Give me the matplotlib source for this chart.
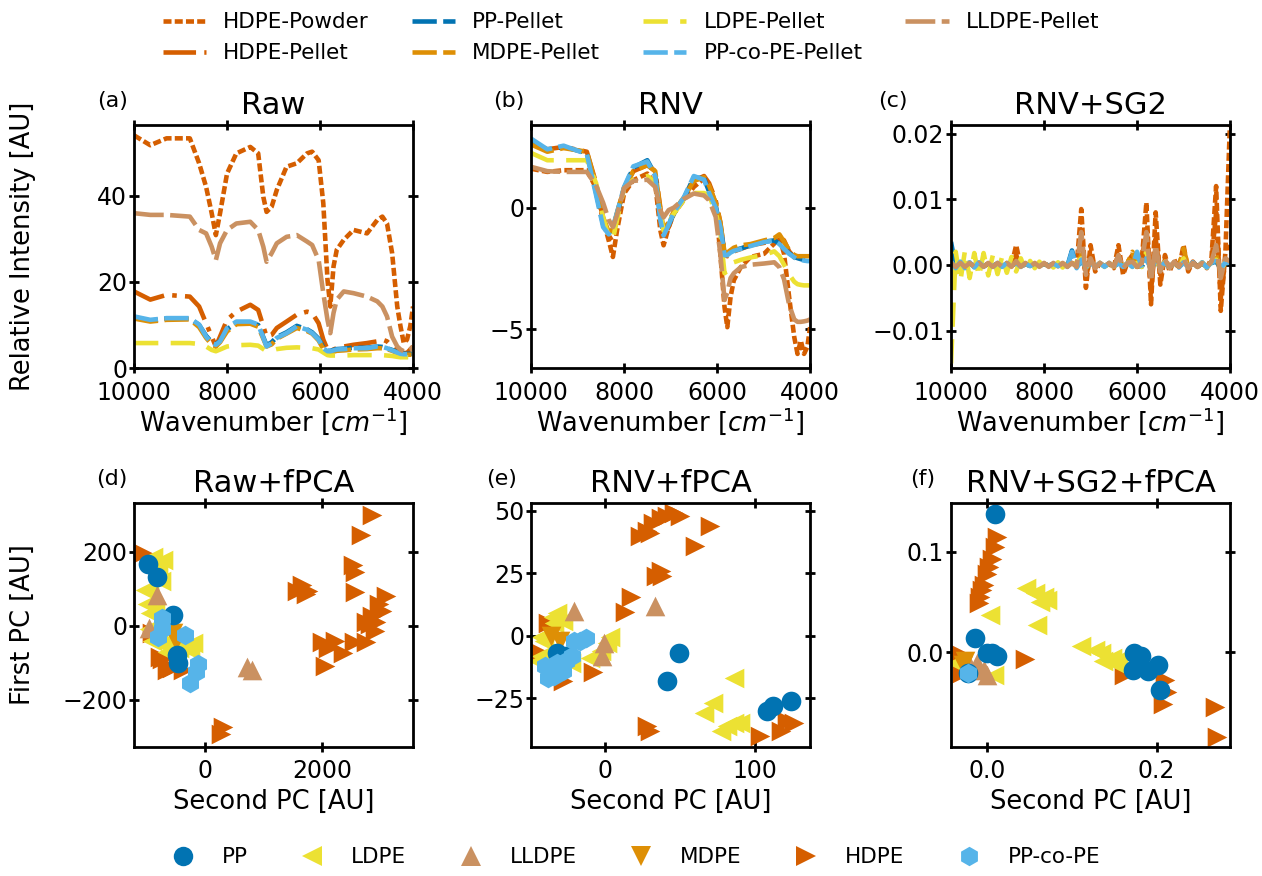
import numpy as np
import matplotlib
matplotlib.use('Agg')
import matplotlib.pyplot as plt
from matplotlib.lines import Line2D

# colours (seaborn colorblind)
c_hdpe = '#D55E00'
c_pp = '#0173B2'
c_mdpe = '#DE8F05'
c_ldpe = '#ECE133'
c_ppco = '#56B4E9'
c_lldpe = '#CA9161'

# ---- spectra, panels (a) and (b) ----
wn = [10000, 9650, 9300, 8800, 8600, 8450, 8330, 8240, 8150, 8000, 7800, 7500, 7330, 7220,
      7150, 7040, 6930, 6720, 6500, 6280, 6170, 6030, 5930, 5840, 5780, 5710, 5640, 5490,
      5280, 4990, 4770, 4660, 4560, 4450, 4340, 4270, 4200, 4130, 4060, 4000]

raw_hdpe_pow = [54.1, 51.8, 53.4, 53.4, 47.6, 42.1, 36.0, 30.9, 36.0, 45.2, 49.9, 51.4, 49.9, 39.8,
                36.3, 37.5, 41.4, 46.8, 47.6, 49.9, 50.3, 48.3, 38.3, 20.5, 14.3, 23.6, 27.5, 29.8,
                32.1, 31.3, 34.4, 35.2, 33.6, 26.7, 14.3, 9.7, 5.8, 6.6, 9.7, 14.3]
raw_hdpe_pel = [17.8, 15.9, 17.0, 16.6, 14.3, 10.4, 7.3, 5.0, 7.3, 11.2, 13.1, 14.7, 13.5, 9.7,
                7.3, 7.7, 9.3, 10.8, 12.4, 13.1, 12.8, 10.4, 6.6, 4.3, 3.9, 4.3, 4.6, 5.0,
                5.4, 5.8, 6.2, 6.6, 6.2, 5.0, 4.3, 3.9, 3.5, 3.5, 4.3, 5.0]
raw_pp = [11.8, 11.0, 11.5, 11.5, 10.0, 7.5, 6.0, 5.5, 6.3, 9.0, 10.5, 10.6, 10.0, 7.2,
          5.3, 6.0, 7.2, 8.3, 9.8, 9.0, 8.3, 6.8, 4.8, 4.0, 4.0, 4.2, 4.4, 4.5,
          4.7, 4.7, 5.0, 4.9, 4.6, 4.2, 3.7, 3.4, 3.3, 3.3, 3.3, 3.3]
raw_mdpe = [11.5, 10.8, 11.2, 11.3, 9.5, 7.0, 5.5, 5.0, 6.0, 8.5, 10.2, 10.3, 9.6, 6.8,
            5.0, 5.5, 6.8, 8.0, 9.3, 8.6, 8.0, 6.4, 4.4, 3.6, 3.5, 3.8, 4.0, 4.1,
            4.3, 4.4, 4.6, 4.6, 4.4, 4.0, 3.5, 3.2, 3.1, 3.1, 3.1, 3.1]
raw_ldpe = [5.8, 5.8, 5.8, 5.8, 5.6, 5.0, 4.2, 3.9, 4.3, 5.0, 5.3, 5.4, 5.2, 4.4,
            3.9, 4.1, 4.4, 4.7, 4.8, 4.7, 4.6, 4.3, 3.6, 3.0, 2.9, 2.9, 2.9, 2.9,
            3.0, 3.0, 3.0, 3.0, 2.9, 2.8, 2.6, 2.5, 2.5, 2.5, 2.5, 2.5]
raw_ppco = [12.0, 11.2, 11.6, 11.6, 10.1, 7.3, 5.8, 5.4, 6.2, 9.3, 10.8, 10.8, 10.1, 7.0,
            5.0, 5.8, 7.0, 8.1, 9.7, 8.9, 8.1, 6.6, 4.6, 3.9, 3.9, 4.1, 4.3, 4.4,
            4.6, 4.6, 5.0, 4.9, 4.6, 4.1, 3.6, 3.3, 3.2, 3.2, 3.3, 3.3]
raw_lldpe = [36.0, 35.6, 35.6, 35.2, 32.1, 31.3, 28.2, 25.1, 29.0, 32.1, 33.6, 34.0, 32.1, 28.2,
             24.7, 26.7, 29.0, 30.5, 30.9, 29.4, 28.6, 25.1, 17.4, 11.2, 8.1, 12.8, 15.9, 17.8,
             17.4, 16.6, 15.5, 14.3, 12.0, 7.3, 5.0, 4.3, 3.9, 3.9, 4.3, 5.0]

rnv_hdpe_pow = [1.6, 1.47, 1.54, 1.54, 0.8, -0.52, -1.35, -2.03, -0.93, 0.58, 1.13, 1.40, 0.99, -0.93,
                -1.55, -0.80, -0.25, 0.30, 0.85, 1.20, 0.92, 0.16, -1.90, -4.09, -4.92, -3.68, -2.99, -2.45,
                -2.03, -1.90, -1.48, -1.21, -1.90, -3.68, -5.33, -6.02, -5.47, -6.02, -5.74, -4.92]
rnv_hdpe_pel = [2.7, 2.4, 2.5, 2.3, 1.0, -0.5, -1.3, -1.2, -0.3, 0.8, 1.5, 1.75, 1.5, 0.0,
                -1.2, -0.8, -0.2, 0.4, 1.1, 1.3, 1.0, 0.3, -0.6, -1.9, -2.0, -1.9, -1.8, -1.7,
                -1.55, -1.45, -1.35, -1.15, -1.35, -1.80, -2.05, -2.05, -2.05, -2.05, -2.05, -2.05]
rnv_pp = [2.75, 2.35, 2.50, 2.25, 0.6, -0.7, -1.05, -0.85, -0.25, 0.8, 1.65, 1.95, 1.35, -0.4,
          -1.05, -0.7, -0.25, 0.35, 1.25, 1.2, 0.65, 0.05, -0.75, -1.90, -1.92, -1.80, -1.75, -1.68,
          -1.55, -1.40, -1.35, -1.48, -1.68, -1.88, -2.02, -2.08, -2.12, -2.15, -2.17, -2.17]
rnv_mdpe = [2.6, 2.3, 2.45, 2.3, 0.9, -0.4, -1.0, -0.9, -0.2, 0.8, 1.5, 1.75, 1.5, -0.1,
            -0.9, -0.6, -0.15, 0.4, 1.1, 1.25, 0.9, 0.2, -0.6, -1.85, -1.85, -1.75, -1.65, -1.55,
            -1.50, -1.35, -1.25, -1.10, -1.40, -1.75, -1.95, -2.0, -2.0, -2.0, -2.0, -2.0]
rnv_ldpe = [2.25, 1.95, 1.95, 1.95, 1.0, -0.4, -1.2, -1.3, -0.5, 0.8, 1.15, 1.30, 1.05, -0.2,
            -0.95, -0.6, -0.25, 0.3, 0.6, 0.6, 0.5, -0.2, -1.0, -2.7, -2.6, -2.35, -2.25, -2.15,
            -2.05, -1.95, -1.80, -2.0, -2.35, -2.75, -3.05, -3.15, -3.18, -3.2, -3.2, -3.2]
rnv_ppco = [2.84, 2.40, 2.55, 2.20, 0.50, -0.80, -1.10, -0.80, -0.20, 0.85, 1.70, 1.90, 1.30, -0.50,
            -1.15, -0.70, -0.20, 0.40, 1.30, 1.15, 0.60, 0.00, -0.80, -1.96, -1.96, -1.85, -1.78, -1.70,
            -1.58, -1.42, -1.35, -1.50, -1.70, -1.90, -2.05, -2.12, -2.15, -2.18, -2.20, -2.20]
rnv_lldpe = [1.68, 1.50, 1.47, 1.47, 0.9, 0.2, -0.5, -0.8, -0.3, 0.8, 1.10, 1.15, 0.85, -0.1,
             -0.4, -0.1, 0.0, 0.35, 0.58, 0.5, 0.3, -0.38, -1.9, -3.8, -3.5, -2.9, -2.7, -2.45,
             -2.35, -2.30, -2.25, -2.45, -2.95, -4.0, -4.6, -4.7, -4.7, -4.68, -4.65, -4.6]

# ---- second derivative spectra, panel (c), values in 1e-3 ----
wn_c = [10000, 9900, 9800, 9700, 9600, 9500, 9400, 9300, 9200, 9100, 9000, 8900, 8800, 8700,
        8600, 8500, 8400, 8300, 8200, 8100, 8000, 7900, 7800, 7700, 7600, 7500, 7400, 7300,
        7200, 7100, 7000, 6900, 6800, 6700, 6600, 6500, 6400, 6300, 6200, 6100, 6000, 5900,
        5800, 5700, 5600, 5500, 5400, 5300, 5200, 5100, 5000, 4900, 4800, 4700, 4600, 4500,
        4400, 4300, 4200, 4100, 4000]
sg_hdpe_pow = [0.3, -0.2, 0.2, -0.2, 0.2, -0.1, 0.2, -0.2, 0.1, -0.1, 0.2, -0.2, 0.1, -0.1,
               3.0, -0.3, 0.1, -0.1, 0.1, -0.1, 0.2, -0.1, 0.1, -0.2, 0.1, -0.1, 0.3, -0.2,
               8.5, -3.5, 3.0, -1.0, 0.3, -0.2, 0.2, -0.5, 3.0, -1.5, 0.5, 1.5, -0.5, 0.5,
               9.5, -6.0, 8.0, -3.0, 1.5, -1.0, 0.8, -0.5, 3.0, -1.0, 0.5, -0.3, 0.3, -0.5,
               1.0, 12.0, -7.0, 2.0, 22.0]
sg_hdpe_pel = [0.2, -0.2, 0.2, -0.1, 0.1, -0.1, 0.2, -0.1, 0.1, -0.1, 0.1, -0.1, 0.1, -0.1,
               1.5, -0.2, 0.1, -0.1, 0.1, -0.1, 0.1, -0.1, 0.1, -0.1, 0.1, -0.1, 0.2, -0.1,
               4.0, -2.0, 1.5, -0.5, 0.2, -0.2, 0.2, -0.3, 1.5, -0.8, 0.3, 0.8, -0.3, 0.3,
               6.0, -4.0, 4.0, -1.5, 0.8, -0.5, 0.4, -0.3, 1.5, -0.5, 0.3, -0.2, 0.2, -0.3,
               0.5, 8.0, -5.0, 1.0, 3.0]
sg_pp = [3.5, -0.4, 0.4, -0.3, 0.3, -0.3, 0.3, -0.2, 0.2, -0.2, 0.2, -0.2, 0.2, -0.1,
         0.2, -0.1, 0.1, -0.1, 0.1, -0.1, 0.1, -0.1, 0.1, -0.1, 0.2, -0.2, 2.2, -0.3,
         0.5, -0.3, 0.2, -0.2, 0.2, -0.2, 0.2, -0.2, 0.2, -0.2, 0.2, 0.5, 0.5, -0.3,
         1.0, -0.5, 0.5, -0.3, 0.3, -0.3, 0.3, -0.3, 0.3, -0.3, 0.3, -0.3, 0.3, -0.3,
         0.3, 0.5, -0.5, 0.3, 0.2]
sg_mdpe = [0.4, -0.4, 0.4, -0.3, 0.3, -0.3, 0.3, -0.2, 0.2, -0.2, 0.2, -0.2, 0.2, -0.1,
           0.5, -0.1, 0.1, -0.1, 0.1, -0.1, 0.1, -0.1, 0.1, -0.1, 0.2, -0.2, 0.3, -0.2,
           1.5, -0.5, 0.5, -0.2, 0.2, -0.2, 0.2, -0.2, 0.8, -0.3, 0.3, 2.0, -0.3, 0.3,
           2.0, -1.0, 1.0, -0.5, 0.5, -0.3, 0.3, -0.3, 2.5, -0.3, 0.3, -0.3, 0.3, -0.3,
           0.5, 1.5, -1.0, 0.5, 0.3]
sg_ldpe = [-15.0, 2.0, -2.5, 2.2, -2.0, 1.8, -1.8, 1.8, -1.6, 1.5, -1.4, 1.3, -1.2, 1.2,
           -1.0, 1.0, -0.8, 0.6, -0.5, 0.5, -0.5, 0.4, -0.4, 0.4, -0.4, 0.4, -0.4, 0.4,
           1.0, -0.4, 0.4, -0.3, 0.3, -0.3, 0.3, -0.3, 0.6, -0.3, 0.3, -0.3, 0.3, -0.3,
           2.0, -0.8, 0.8, -0.5, 0.5, -0.4, 0.4, -0.4, 1.0, -0.4, 0.4, -0.4, 0.4, -0.4,
           0.4, 0.8, -0.8, 0.4, 0.3]
sg_ppco = [0.5, -0.5, 0.5, -0.5, 0.4, -0.4, 0.4, -0.3, 0.3, -0.3, 0.3, -0.3, 0.3, -0.2,
           0.3, -0.3, 0.2, -0.2, 0.2, -0.2, 0.2, -0.2, 0.2, -0.2, 0.3, -0.3, 2.0, -0.5,
           0.8, -0.4, 0.3, -0.3, 0.3, -0.3, 0.3, -0.3, 0.3, -0.3, 0.3, -0.3, 2.0, -0.5,
           1.0, -0.6, 0.6, -0.4, 0.4, -0.4, 0.4, -0.4, 0.4, -0.4, 0.4, -0.4, 0.4, -0.4,
           0.4, 0.6, -0.6, 0.4, 0.3]
sg_lldpe = [0.3, -0.3, 0.3, -0.3, 0.3, -0.3, 0.3, -0.3, 0.3, -0.3, 0.3, -0.3, 0.3, -0.3,
            0.6, -0.3, 0.3, -0.3, 0.3, -0.3, 0.3, -0.3, 0.3, -0.3, 0.3, -0.3, 0.3, -0.3,
            5.0, -1.5, 1.0, -0.5, 0.3, -0.3, 0.3, -0.3, 1.5, -0.5, 0.3, 0.5, -0.3, 0.3,
            5.0, -2.5, 3.0, -1.0, 0.8, -0.5, 0.5, -0.3, 1.0, -0.5, 0.3, -0.3, 0.3, -0.3,
            0.5, 3.0, -2.0, 1.0, 0.5]

# ---- fPCA scores: (second PC, first PC) ----
d_pp_x = [-970, -820, -540, -480, -470]
d_pp_y = [168, 131, 29, -80, -102]
d_ldpe_x = [-900, -800, -950, -1000, -850, -950, -800, -700, -600, -450, -500, -750, -900, -650,
            -884, -718, -1026, -940, -200, -256]
d_ldpe_y = [170, 160, 100, 60, 40, -10, -30, -50, -60, -60, -30, 120, -40, -70,
            186, 178, 96, 34, -48, -66]
d_lldpe_x = [-826, -950, 710, 795]
d_lldpe_y = [83, -5, -111, -120]
d_mdpe_x = [-547, -500, -600]
d_mdpe_y = [-20, -40, 10]
d_hdpe_x = [2850, 2660, 2530, 2560, 2560, 1650, 1760, 1580, 1720, 3100, 2980, 2850, 2820, 2930,
            3020, 2900, 2760, 2000, 2230, 2100, 2350, 2050, 2550, 2760, 300, 280, -1060, -769,
            -740, -650, -560, -900, -376]
d_hdpe_y = [300, 245, 165, 145, 92, 110, 95, 95, 85, 80, 60, 25, 5, 10,
            40, -15, 10, -45, -40, -60, -75, -110, -45, -45, -275, -292, 196, -85,
            -90, -120, -115, -20, -120]
d_ppco_x = [-740, -798, -342, -115, -256, -740, -160]
d_ppco_y = [20, -30, -25, -104, -156, -10, -125]

e_pp_x = [49, 41, 108, 112, 124, -32, -26]
e_pp_y = [-7, -18, -30, -28, -26, -7, -8]
e_ldpe_x = [86, 72, 66, 81, 86, 90, 77, -32, -34, -41, -43, -23, 1, -3, -35, -43, -10, 3, -45, -28]
e_ldpe_y = [-17, -27, -31, -36, -35, -35, -38, 9, 5, -2, -8, -11, -3, -6, 7.5, -0.5, -9, -0.5, -10, 6]
e_lldpe_x = [-21, 33, -1, -2]
e_lldpe_y = [10, 12, -3, -8]
e_mdpe_x = [-36, -30]
e_mdpe_y = [0, -2]
e_hdpe_x = [23, 28, 32, 37, 41, 46, 50, 30, 70, 60, 37, 38, 34, 17, 13, -8, 28, 30,
            103, 117, 126, 121, -38, -43, -28]
e_hdpe_y = [40, 42, 45, 47, 48, 49, 48, 41, 44, 36, 26, 24, 24, 15.5, 9.5, -14.5, -36, -38,
            -40, -38, -35, -34, 5, -7, -18]
e_ppco_x = [-21, -17, -32, -34, -26, -28, -13, -38, -40, -22]
e_ppco_y = [-2, -2, -11, -16, -10, -14, -1, -17, -12, -8]

f_pp_x = [0.010, -0.014, 0.0, 0.006, 0.012, 0.174, 0.182, 0.172, 0.190, 0.202, 0.204, -0.022]
f_pp_y = [0.137, 0.014, -0.001, -0.001, -0.004, -0.001, -0.004, -0.018, -0.019, -0.013, -0.037, -0.021]
f_ldpe_x = [0.046, 0.057, 0.067, 0.071, 0.063, 0.004, 0.059, 0.111, 0.127, 0.135, 0.147, 0.154,
            0.137, 0.150, 0.008, -0.036]
f_ldpe_y = [0.064, 0.059, 0.055, 0.052, 0.050, 0.037, 0.027, 0.006, 0.002, -0.001, -0.006, -0.008,
            -0.009, -0.011, -0.022, -0.011]
f_lldpe_x = [-0.012, -0.004, -0.020, 0.000]
f_lldpe_y = [-0.011, -0.018, -0.014, -0.022]
f_mdpe_x = [-0.026, -0.028]
f_mdpe_y = [-0.009, -0.013]
f_hdpe_x = [0.012, 0.010, 0.006, 0.002, 0.000, -0.004, -0.006, -0.008, -0.010, 0.045, 0.162, 0.210,
            0.212, 0.208, 0.269, 0.271, -0.034, -0.030]
f_hdpe_y = [0.115, 0.105, 0.093, 0.085, 0.078, 0.067, 0.062, 0.055, 0.049, -0.007, -0.022, -0.027,
            -0.039, -0.051, -0.054, -0.084, -0.001, -0.021]
f_ppco_x = [-0.022]
f_ppco_y = [-0.021]

fig = plt.figure(figsize=(12.62, 8.76), dpi=100)
lefts = [0.1062, 0.4208, 0.7536]
w = 0.2211
axes_top = [fig.add_axes([l, 0.5799, w, 0.2774]) for l in lefts]
axes_bot = [fig.add_axes([l, 0.1473, w, 0.2785]) for l in lefts]

lw = 3.3
line_styles = {
    'HDPE-Powder': (c_hdpe, (0, (1.75, 0.7))),
    'HDPE-Pellet': (c_hdpe, (0, (7.1, 1.8, 1.0, 1.8))),
    'PP-Pellet': (c_pp, (0, (5.3, 1.4))),
    'MDPE-Pellet': (c_mdpe, (0, (5.3, 1.4))),
    'LDPE-Pellet': (c_ldpe, (0, (5.3, 2.7))),
    'PP-co-PE-Pellet': (c_ppco, (0, (5.3, 1.4))),
    'LLDPE-Pellet': (c_lldpe, (0, (6.5, 1.4))),
}
names = list(line_styles.keys())
raw = [raw_hdpe_pow, raw_hdpe_pel, raw_pp, raw_mdpe, raw_ldpe, raw_ppco, raw_lldpe]
rnv = [rnv_hdpe_pow, rnv_hdpe_pel, rnv_pp, rnv_mdpe, rnv_ldpe, rnv_ppco, rnv_lldpe]
sg = [sg_hdpe_pow, sg_hdpe_pel, sg_pp, sg_mdpe, sg_ldpe, sg_ppco, sg_lldpe]

for i, n in enumerate(names):
    col, ls = line_styles[n]
    axes_top[0].plot(wn, raw[i], color=col, ls=ls, lw=lw, label=n)
    axes_top[1].plot(wn, rnv[i], color=col, ls=ls, lw=lw)
    axes_top[2].plot(wn_c, np.array(sg[i]) * 1e-3, color=col, ls=ls, lw=lw)

for ax in axes_top:
    ax.set_xlim(10000, 4000)
    ax.set_xticks([10000, 8000, 6000, 4000])
    ax.set_xlabel(r'Wavenumber [$cm^{-1}$]', fontsize=18.5, labelpad=1)
axes_top[0].set_ylim(0, 56.5)
axes_top[0].set_yticks([0, 20, 40])
axes_top[1].set_ylim(-6.6, 3.4)
axes_top[1].set_yticks([-5, 0])
axes_top[2].set_ylim(-0.0157, 0.0213)
axes_top[2].set_yticks([-0.01, 0.0, 0.01, 0.02])
axes_top[0].set_ylabel('Relative Intensity [AU]', fontsize=18.5)

ms = 200
scat = [
    ('PP', 'o', c_pp, [(d_pp_x, d_pp_y), (e_pp_x, e_pp_y), (f_pp_x, f_pp_y)]),
    ('LDPE', '<', c_ldpe, [(d_ldpe_x, d_ldpe_y), (e_ldpe_x, e_ldpe_y), (f_ldpe_x, f_ldpe_y)]),
    ('LLDPE', '^', c_lldpe, [(d_lldpe_x, d_lldpe_y), (e_lldpe_x, e_lldpe_y), (f_lldpe_x, f_lldpe_y)]),
    ('MDPE', 'v', c_mdpe, [(d_mdpe_x, d_mdpe_y), (e_mdpe_x, e_mdpe_y), (f_mdpe_x, f_mdpe_y)]),
    ('HDPE', '>', c_hdpe, [(d_hdpe_x, d_hdpe_y), (e_hdpe_x, e_hdpe_y), (f_hdpe_x, f_hdpe_y)]),
    ('PP-co-PE', 'h', c_ppco, [(d_ppco_x, d_ppco_y), (e_ppco_x, e_ppco_y), (f_ppco_x, f_ppco_y)]),
]
zorders = {'HDPE': 2.0, 'LDPE': 2.1, 'LLDPE': 2.2, 'MDPE': 2.3, 'PP': 2.4, 'PP-co-PE': 2.5}
for lab, mk, col, pts in scat:
    for ax, (xs, ys) in zip(axes_bot, pts):
        ax.scatter(xs, ys, s=ms, marker=mk, color=col, linewidths=0, zorder=zorders[lab])

axes_bot[0].set_xlim(-1214, 3556)
axes_bot[0].set_ylim(-328, 332)
axes_bot[0].set_xticks([0, 2000])
axes_bot[0].set_yticks([-200, 0, 200])
axes_bot[1].set_xlim(-49.3, 136.7)
axes_bot[1].set_ylim(-44.5, 53.1)
axes_bot[1].set_xticks([0, 100])
axes_bot[1].set_yticks([-25, 0, 25, 50])
axes_bot[2].set_xlim(-0.0424, 0.2868)
axes_bot[2].set_ylim(-0.094, 0.1484)
axes_bot[2].set_xticks([0.0, 0.2])
axes_bot[2].set_yticks([0.0, 0.1])
for ax in axes_bot:
    ax.set_xlabel('Second PC [AU]', fontsize=18.5, labelpad=4)
axes_bot[0].set_ylabel('First PC [AU]', fontsize=18.5)

# both y labels sit on the same vertical line at the far left
axes_top[0].yaxis.set_label_coords(-0.35, 0.5)
axes_bot[0].yaxis.set_label_coords(-0.35, 0.5)

titles = ['Raw', 'RNV', 'RNV+SG2', 'Raw+fPCA', 'RNV+fPCA', 'RNV+SG2+fPCA']
letters = ['(a)', '(b)', '(c)', '(d)', '(e)', '(f)']
letter_x = [-0.022, -0.025, -0.155, -0.022, -0.05, -0.058]
for k, ax in enumerate(axes_top + axes_bot):
    ax.set_title(titles[k], fontsize=22, pad=8)
    ax.text(letter_x[k], 1.10, letters[k], transform=ax.transAxes, ha='right', va='center', fontsize=16)
    ax.tick_params(axis='both', which='major', direction='inout', length=7, width=2,
                   labelsize=17, top=True, right=True)
    ax.tick_params(axis='x', pad=5.5)
    ax.tick_params(axis='y', pad=1.5)
    for sp in ax.spines.values():
        sp.set_linewidth(2)

fig.legend(loc='upper center', bbox_to_anchor=(0.5, 1.008), ncol=4, frameon=False, fontsize=15.5)

handles = [Line2D([], [], ls='none', marker=mk, color=col, markersize=14, markeredgewidth=0)
           for lab, mk, col, pts in scat]
fig.legend(handles, [s[0] for s in scat], loc='lower center', bbox_to_anchor=(0.5, -0.012), ncol=6,
           frameon=False, fontsize=15.5, columnspacing=2.0)

fig.savefig('out.png', dpi=100)
